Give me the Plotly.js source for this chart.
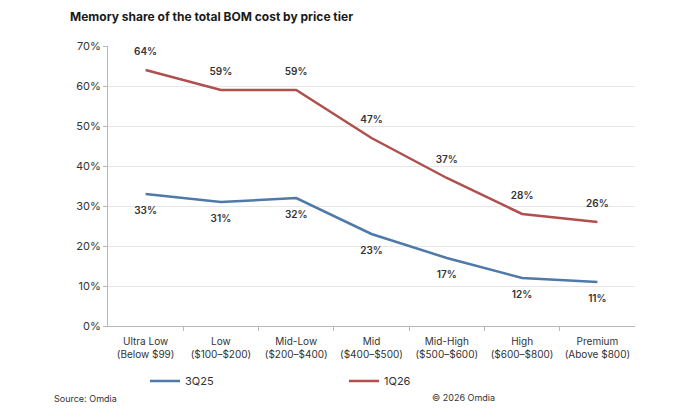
<!DOCTYPE html>
<html>
<head>
<meta charset="utf-8">
<script src="https://cdn.plot.ly/plotly-3.0.1.min.js"></script>
<style>
  html, body { margin: 0; padding: 0; background: #ffffff; }
  #chart { width: 700px; height: 420px; }
</style>
</head>
<body>
<div id="chart"></div>
<script>
// Price tiers (x categories)
const tiers = [
  "Ultra Low<br>(Below $99)",
  "Low<br>($100–$200)",
  "Mid-Low<br>($200–$400)",
  "Mid<br>($400–$500)",
  "Mid-High<br>($500–$600)",
  "High<br>($600–$800)",
  "Premium<br>(Above $800)"
];

// Memory share of BOM, percent
const share3Q25 = [33, 31, 32, 23, 17, 12, 11];
const share1Q26 = [64, 59, 59, 47, 37, 28, 26];

const yTicks = [0, 10, 20, 30, 40, 50, 60, 70];

const blue = "#4f79a8";
const red = "#b0504e";
const labelFont = { family: "Inter, 'Open Sans', sans-serif", size: 10, color: "#333333", weight: 600 };

// Invisible markers keep the value labels clear of the lines
const spacer = { size: 18, color: "rgba(0,0,0,0)" };

const traces = [
  {
    name: "3Q25",
    x: tiers,
    y: share3Q25.map(v => v / 100),
    type: "scatter",
    mode: "lines+markers+text",
    line: { color: blue, width: 2.5 },
    marker: spacer,
    text: share3Q25.map(v => v + "%"),
    textposition: "bottom center",
    textfont: labelFont,
    cliponaxis: false,
    hoverinfo: "skip"
  },
  {
    name: "1Q26",
    x: tiers,
    y: share1Q26.map(v => v / 100),
    type: "scatter",
    mode: "lines+markers+text",
    line: { color: red, width: 2.5 },
    marker: spacer,
    text: share1Q26.map(v => v + "%"),
    textposition: "top center",
    textfont: labelFont,
    cliponaxis: false,
    hoverinfo: "skip"
  }
];

const layout = {
  width: 700,
  height: 420,
  paper_bgcolor: "#ffffff",
  plot_bgcolor: "#ffffff",
  margin: { l: 108, r: 65, t: 46, b: 94 },
  font: { family: "Inter, 'Open Sans', sans-serif", size: 10, color: "#333333" },
  title: {
    text: "<b>Memory share of the total BOM cost by price tier</b>",
    x: 70 / 700, xanchor: "left",
    y: 1 - 17 / 420, yanchor: "middle",
    font: { family: "Inter, 'Open Sans', sans-serif", size: 12, color: "#1a1a1a" }
  },
  xaxis: {
    type: "category",
    showline: true,
    linecolor: "#b8b8b8",
    linewidth: 1,
    ticks: "outside",
    tickson: "boundaries",
    ticklen: 4,
    tickcolor: "#b8b8b8",
    ticklabelstandoff: 6,
    showgrid: false,
    tickfont: { size: 10, color: "#333333" },
    fixedrange: true
  },
  yaxis: {
    range: [0, 0.7],
    tickvals: yTicks.map(v => v / 100),
    ticktext: yTicks.map(v => v + "%"),
    showline: true,
    linecolor: "#b8b8b8",
    linewidth: 1,
    ticks: "outside",
    ticklen: 4,
    tickcolor: "#b8b8b8",
    showgrid: true,
    gridcolor: "#e6e6e6",
    gridwidth: 1,
    zeroline: false,
    tickfont: { size: 11, color: "#333333" },
    fixedrange: true
  },
  showlegend: true,
  legend: {
    orientation: "h",
    x: (145 - 108) / (700 - 108 - 65),
    xanchor: "left",
    y: -55 / 280,
    yanchor: "middle",
    entrywidth: 154,
    entrywidthmode: "pixels",
    itemwidth: 30,
    font: { size: 11, color: "#333333" },
    bgcolor: "rgba(0,0,0,0)"
  },
  annotations: [
    {
      text: "Source: Omdia",
      xref: "paper", yref: "paper",
      x: (52 - 108) / 527, xanchor: "left",
      y: -(398 - 326) / 280, yanchor: "middle",
      showarrow: false,
      font: { size: 9, color: "#333333" }
    },
    {
      text: "© 2026 Omdia",
      xref: "paper", yref: "paper",
      x: (430 - 108) / 527, xanchor: "left",
      y: -(397 - 326) / 280, yanchor: "middle",
      showarrow: false,
      font: { size: 9, color: "#333333" }
    }
  ]
};

Plotly.newPlot("chart", traces, layout, { displayModeBar: false, staticPlot: true });
</script>
</body>
</html>
